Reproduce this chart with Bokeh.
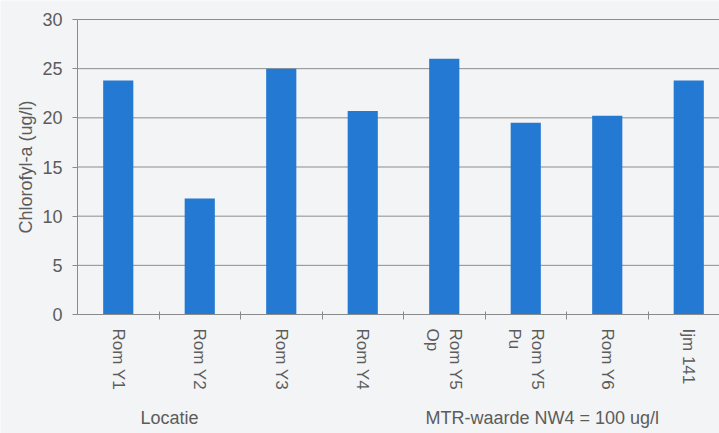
import numpy as np
from bokeh.plotting import figure
from bokeh.models import FixedTicker, Label, ColumnDataSource
from bokeh.embed import file_html
from bokeh.resources import INLINE

# Chlorophyll-a per sampling location
locations = ["Rom Y1", "Rom Y2", "Rom Y3", "Rom Y4", "Rom Y5\nOp", "Rom Y5\nPu", "Rom Y6", "Ijm 141"]
chlorofyl = [23.8, 11.8, 25.0, 20.7, 26.0, 19.5, 20.2, 23.8]
y_ticks = [0, 5, 10, 15, 20, 25, 30]

BG = "#f3f4f5"
BAR = "#2479d2"
TXT = "#5c5c5c"
AXIS = "#8a8a8a"
FONT = "Liberation Sans"

W, H = 719, 433
LEFT, TOP, BOTTOM = 77, 19, 314          # pixel position of the value axis and of y = 30 / y = 0
CAT_PX = 81.5                            # width of one category in pixels

px_per_y = (BOTTOM - TOP) / 30.0
x_start = -LEFT / CAT_PX
x_end = (W - LEFT) / CAT_PX
y_start = -(H - BOTTOM) / px_per_y
y_end = 30 + TOP / px_per_y

centers = np.arange(len(locations)) + 0.5
boundaries = list(np.arange(1, len(locations) + 1))

src = ColumnDataSource(dict(x=centers, top=chlorofyl))

# the frame covers the whole canvas; both axes are pinned at 0 so that the
# axis titles and captions can be placed freely around the bars
p = figure(width=W, height=H, x_range=(x_start, x_end), y_range=(y_start, y_end),
           output_backend="svg", toolbar_location=None,
           background_fill_color=BG, border_fill_color=BG,
           min_border_left=0, min_border_right=0, min_border_top=0, min_border_bottom=0)
p.outline_line_color = None
p.grid.visible = False

# horizontal grid lines at the value ticks
p.segment(x0=0, x1=x_end, y0=y_ticks, y1=y_ticks, line_color="#8c8c8c", line_width=1)

p.vbar(x="x", top="top", width=0.37, source=src, color=BAR, line_color=None)

# y axis
p.yaxis.fixed_location = 0
p.yaxis.bounds = (0, 30)
p.yaxis.ticker = FixedTicker(ticks=y_ticks)
p.yaxis.axis_line_color = AXIS
p.yaxis.major_tick_line_color = AXIS
p.yaxis.major_tick_out = 5
p.yaxis.major_tick_in = 0
p.yaxis.minor_tick_line_color = None
p.yaxis.major_label_text_font = FONT
p.yaxis.major_label_text_font_size = "18px"
p.yaxis.major_label_text_color = TXT
p.yaxis.major_label_standoff = 10

# x axis: labels at category centres, tick marks at category boundaries
p.xaxis.fixed_location = 0
p.xaxis.bounds = (0, x_end)
p.xaxis.ticker = FixedTicker(ticks=list(centers), minor_ticks=boundaries)
p.xaxis.major_label_overrides = {float(c): lab for c, lab in zip(centers, locations)}
p.xaxis.major_label_orientation = -np.pi / 2
p.xaxis.major_label_text_font = FONT
p.xaxis.major_label_text_font_size = "17px"
p.xaxis.major_label_text_color = TXT
p.xaxis.major_label_standoff = 8
p.xaxis.major_tick_out = 6
p.xaxis.major_tick_line_color = None
p.xaxis.minor_tick_line_color = AXIS
p.xaxis.minor_tick_out = 5
p.xaxis.minor_tick_in = 3
p.xaxis.axis_line_color = AXIS

# axis title and captions
p.add_layout(Label(x=25, y=H - (TOP + BOTTOM) / 2, x_units="screen", y_units="screen",
                   text="Chlorofyl-a (ug/l)", angle=np.pi / 2, text_align="center",
                   text_baseline="middle", text_font=FONT, text_font_size="18px",
                   text_color=TXT))
for txt, xpos in [("Locatie", 140), ("MTR-waarde NW4 = 100 ug/l", 425)]:
    p.add_layout(Label(x=xpos, y=6, x_units="screen", y_units="screen", text=txt,
                       text_font=FONT, text_font_size="18px", text_color=TXT))

open("out.html", "w").write(file_html(p, INLINE))
